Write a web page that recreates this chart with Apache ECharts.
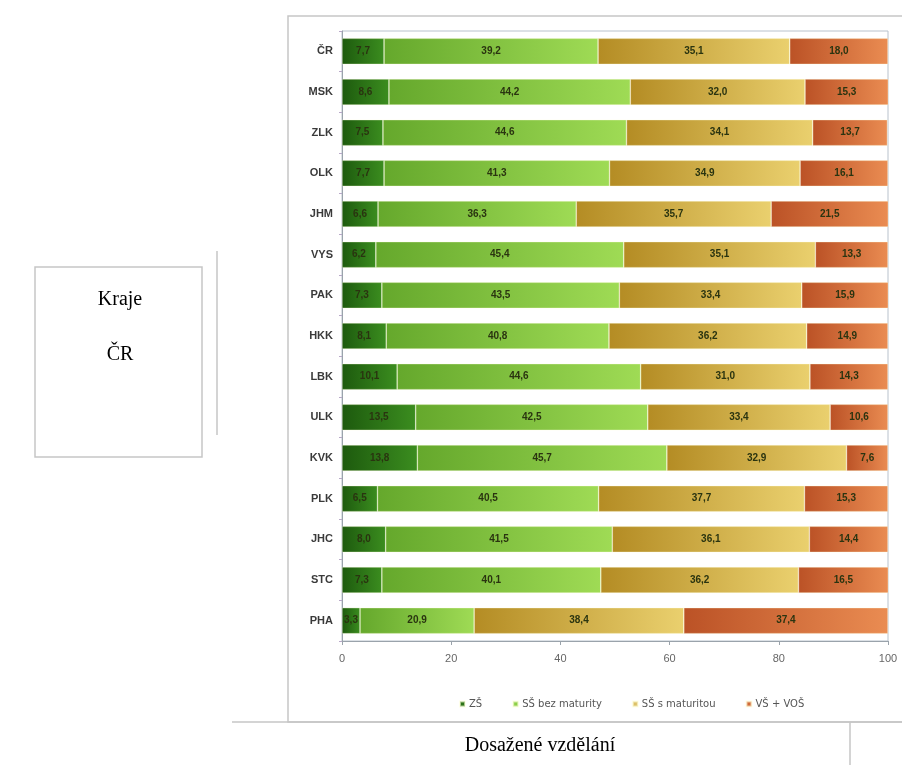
<!DOCTYPE html>
<html>
<head>
<meta charset="utf-8">
<script src="https://cdn.jsdelivr.net/npm/echarts@6/dist/echarts.min.js"></script>
<style>
  html, body { margin: 0; padding: 0; background: #fff; }
  #chart { width: 902px; height: 765px; }
</style>
</head>
<body>
<div id="chart"></div>
<script>
// Regions of the Czech Republic, top to bottom
const regions = ['ČR', 'MSK', 'ZLK', 'OLK', 'JHM', 'VYS', 'PAK', 'HKK', 'LBK', 'ULK', 'KVK', 'PLK', 'JHC', 'STC', 'PHA'];

// Share of population by highest attained education (%)
const zs          = [7.7, 8.6, 7.5, 7.7, 6.6, 6.2, 7.3, 8.1, 10.1, 13.5, 13.8, 6.5, 8.0, 7.3, 3.3];
const ssBezMat    = [39.2, 44.2, 44.6, 41.3, 36.3, 45.4, 43.5, 40.8, 44.6, 42.5, 45.7, 40.5, 41.5, 40.1, 20.9];
const ssSMat      = [35.1, 32.0, 34.1, 34.9, 35.7, 35.1, 33.4, 36.2, 31.0, 33.4, 32.9, 37.7, 36.1, 36.2, 38.4];
const vsVos       = [18.0, 15.3, 13.7, 16.1, 21.5, 13.3, 15.9, 14.9, 14.3, 10.6, 7.6, 15.3, 14.4, 16.5, 37.4];

const seriesNames = ['ZŠ', 'SŠ bez maturity', 'SŠ s maturitou', 'VŠ + VOŠ'];
const xTicks = [0, 20, 40, 60, 80, 100];

function grad(c0, c1) {
  return new echarts.graphic.LinearGradient(0, 0, 1, 0, [
    { offset: 0, color: c0 },
    { offset: 1, color: c1 }
  ]);
}

const styles = [
  { fill: grad('#1d5a0e', '#3b8d1f'), legend: '#2c7318' },
  { fill: grad('#65a82c', '#9fdb55'), legend: '#8ccf48' },
  { fill: grad('#b48c24', '#ead06e'), legend: '#dcc068' },
  { fill: grad('#bb5226', '#ea8c52'), legend: '#d06a38' }
];

const dataSets = [zs, ssBezMat, ssSMat, vsVos];

const chart = echarts.init(document.getElementById('chart'), null, { renderer: 'canvas' });

const option = {
  backgroundColor: '#ffffff',
  animation: false,
  textStyle: { fontFamily: 'Arial, "Liberation Sans", sans-serif' },
  grid: {
    left: 342, top: 31, width: 546, height: 610,
    show: true, borderColor: '#b9c2cc', borderWidth: 1, backgroundColor: 'transparent'
  },
  legend: {
    data: seriesNames.map((n, i) => ({ name: n, itemStyle: { color: styles[i].legend } })),
    left: 454, top: 694, width: 440, orient: 'horizontal',
    itemWidth: 5, itemHeight: 5, itemGap: 30,
    icon: 'rect',
    textStyle: { fontSize: 10, color: '#555', fontFamily: '"DejaVu Sans", Verdana, sans-serif', padding: [0, 0, 0, -1] }
  },
  xAxis: {
    type: 'value', min: 0, max: 100, interval: 20,
    axisLine: { show: true, lineStyle: { color: '#9aa3ab' } },
    axisTick: { show: true, length: 4, lineStyle: { color: '#9aa3ab' } },
    splitLine: { show: false },
    axisLabel: {
      fontSize: 11, color: '#666', margin: 12,
      formatter: v => xTicks.includes(v) ? String(v) : ''
    }
  },
  yAxis: {
    type: 'category', data: regions, inverse: true,
    axisLine: { show: true, lineStyle: { color: '#9aa3ab' } },
    axisTick: { show: true, length: 3, lineStyle: { color: '#b8a8c8' } },
    axisLabel: { fontSize: 11, fontWeight: 'bold', color: '#3a3a3a', margin: 9 }
  },
  series: dataSets.map((arr, i) => ({
    name: seriesNames[i],
    type: 'bar',
    stack: 'total',
    barCategoryGap: '36%',
    data: arr,
    itemStyle: { color: styles[i].fill, borderColor: 'rgba(255,255,220,0.6)', borderWidth: 0.6 },
    label: {
      show: true, position: 'inside',
      fontSize: 10, fontWeight: 'bold', color: '#2a3410',
      formatter: p => p.value.toFixed(1).replace('.', ',')
    }
  })),
  graphic: [
    // outer chart frame
    { type: 'rect', shape: { x: 288, y: 16, width: 640, height: 706 }, style: { fill: 'none', stroke: '#c6c6c6', lineWidth: 1.5 }, silent: true },
    // left label box
    { type: 'rect', shape: { x: 35, y: 267, width: 167, height: 190 }, style: { fill: 'none', stroke: '#c6c6c6', lineWidth: 1.5 }, silent: true },
    { type: 'line', shape: { x1: 217, y1: 251, x2: 217, y2: 435 }, style: { stroke: '#c6c6c6', lineWidth: 1.5 }, silent: true },
    { type: 'text', style: { x: 120, y: 300, text: 'Kraje', font: '20px "Liberation Serif", "Times New Roman", serif', fill: '#000', align: 'center', verticalAlign: 'middle' } },
    { type: 'text', style: { x: 120, y: 355, text: 'ČR', font: '20px "Liberation Serif", "Times New Roman", serif', fill: '#000', align: 'center', verticalAlign: 'middle' } },
    // bottom caption row
    { type: 'line', shape: { x1: 232, y1: 722, x2: 902, y2: 722 }, style: { stroke: '#c6c6c6', lineWidth: 1.5 }, silent: true },
    { type: 'line', shape: { x1: 850, y1: 722, x2: 850, y2: 765 }, style: { stroke: '#c6c6c6', lineWidth: 1.5 }, silent: true },
    { type: 'text', style: { x: 540, y: 746, text: 'Dosažené vzdělání', font: '20px "Liberation Serif", "Times New Roman", serif', fill: '#000', align: 'center', verticalAlign: 'middle' } }
  ]
};

chart.setOption(option);
</script>
</body>
</html>
